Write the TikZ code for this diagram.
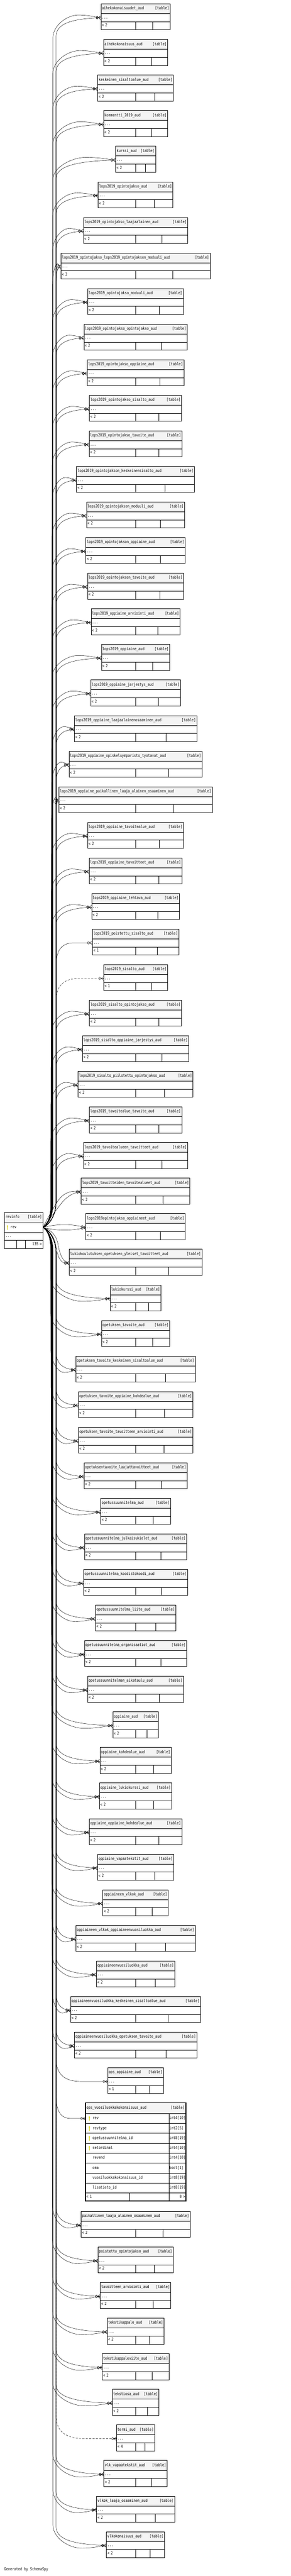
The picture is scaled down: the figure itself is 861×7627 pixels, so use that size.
\documentclass[tikz,border=0pt]{standalone}
\usepackage{fontspec}
\newfontfamily\erfont{DejaVu Sans Mono}[FakeStretch=0.82]
\usetikzlibrary{arrows.meta}
\definecolor{hdrgray}{RGB}{244,244,244}
\definecolor{keyyellow}{RGB}{214,206,0}
\tikzset{
% table cells: grey header and white rows
hdr/.style={draw,fill=hdrgray,line width=0.8pt,inner xsep=3pt,inner ysep=0pt,text height=8.5pt,text depth=2.5pt,align=left},
cell/.style={hdr,fill=white},
% zero-or-many foreign key connectors
fk/.style={line width=0.7pt,-{Circle[open,length=6pt,width=8pt]Straight Barb[reversed,length=7pt,width=10pt]}},
fkdash/.style={fk,dash pattern=on 6pt off 4pt},
prong/.style={line width=0.7pt}
}
% primary key icon
\newcommand{\pkicon}[2]{%
\fill[keyyellow] ({#1},{#2+4}) circle (2.2pt);
\draw[keyyellow,line width=1.1pt] ({#1},{#2+4}) -- ({#1},{#2-7});}

\begin{document}
\begin{tikzpicture}[x=1pt,y=1pt,font=\erfont\fontsize{12}{14}\selectfont]
\useasboundingbox (0,0) rectangle (861,-7627);
% revinfo
\node[hdr,minimum width=113.5pt,text width=107.5pt,minimum height=30.4pt] (rvh) at (69.85,-3604.2) {revinfo\hfill[table]};
\node[cell,minimum width=113.5pt,text width=107.5pt,minimum height=29.3pt] (rev) at (69.85,-3634.05) {\hspace*{15pt}rev};
\node[cell,minimum width=113.5pt,text width=107.5pt,minimum height=23.7pt] (rvd) at (69.85,-3660.55) {...};
\node[cell,minimum width=36.3pt,minimum height=24.1pt] (rvfa) at (31.25,-3684.45) {};
\node[cell,minimum width=26.1pt,minimum height=24.1pt] (rvfb) at (62.45,-3684.45) {};
\node[cell,minimum width=51.1pt,text width=45.1pt,minimum height=24.1pt] (rvfc) at (101.05,-3684.45) {\hfill 135 >};
\pkicon{22}{-3634}
% audit tables: index/name/width/kind/count
\foreach \i/\nm/\w/\k/\cnt in {
1/aihekokonaisuudet\_aud/205.0/2/2,
2/aihekokonaisuus\_aud/189.5/2/2,
3/keskeinen\_sisaltoalue\_aud/224.2/2/2,
4/kommentti\_2019\_aud/189.5/2/2,
5/kurssi\_aud/118.0/2/2,
6/lops2019\_opintojakso\_aud/221.3/2/2,
7/lops2019\_opintojakso\_laajaalainen\_aud/309.1/2/2,
8/lops2019\_opintojakso\_lops2019\_opintojakson\_moduuli\_aud/441.4/2/2,
9/lops2019\_opintojakso\_moduuli\_aud/282.6/2/2,
10/lops2019\_opintojakso\_opintojakso\_aud/306.2/2/2,
11/lops2019\_opintojakso\_oppiaine\_aud/286.2/2/2,
12/lops2019\_opintojakso\_sisalto\_aud/272.8/2/2,
13/lops2019\_opintojakso\_tavoite\_aud/274.8/2/2,
14/lops2019\_opintojakson\_keskeinensisalto\_aud/349.5/2/2,
15/lops2019\_opintojakson\_moduuli\_aud/290.7/2/2,
16/lops2019\_opintojakson\_oppiaine\_aud/294.4/2/2,
17/lops2019\_opintojakson\_tavoite\_aud/284.6/2/2,
18/lops2019\_oppiaine\_arviointi\_aud/263.4/2/2,
19/lops2019\_oppiaine\_aud/202.1/2/2,
20/lops2019\_oppiaine\_jarjestys\_aud/266.2/2/2,
21/lops2019\_oppiaine\_laajaalainenosaaminen\_aud/362.2/2/2,
22/lops2019\_oppiaine\_opiskeluymparisto\_tyotavat\_aud/394.0/2/2,
23/lops2019\_oppiaine\_paikallinen\_laaja\_alainen\_osaaminen\_aud/453.7/2/2,
24/lops2019\_oppiaine\_tavoitealue\_aud/283.8/2/2,
25/lops2019\_oppiaine\_tavoitteet\_aud/274.4/2/2,
26/lops2019\_oppiaine\_tehtava\_aud/260.1/2/2,
27/lops2019\_poistettu\_sisalto\_aud/255.6/1/1,
28/lops2019\_sisalto\_aud/189.1/0/1,
29/lops2019\_sisalto\_opintojakso\_aud/272.8/2/2,
30/lops2019\_sisalto\_oppiaine\_jarjestys\_aud/314.8/2/2,
31/lops2019\_sisalto\_piilotettu\_opintojakso\_aud/340.5/2/2,
32/lops2019\_tavoitealue\_tavoite\_aud/273.6/2/2,
33/lops2019\_tavoitealueen\_tavoitteet\_aud/309.1/2/2,
34/lops2019\_tavoitteiden\_tavoitealueet\_aud/321.8/9/2,
35/lops2019opintojakso\_oppiaineet\_aud/294.4/9/2,
36/lukiokoulutuksen\_opetuksen\_yleiset\_tavoitteet\_aud/392.4/9/2,
37/lukiokurssi\_aud/150.3/2/2,
38/opetuksen\_tavoite\_aud/201.3/2/2,
39/opetuksen\_tavoite\_keskeinen\_sisaltoalue\_aud/353.6/2/2,
40/opetuksen\_tavoite\_oppiaine\_kohdealue\_aud/339.7/2/2,
41/opetuksen\_tavoite\_tavoitteen\_arviointi\_aud/338.9/2/2,
42/opetuksentavoite\_laajattavoitteet\_aud/305.0/2/2,
43/opetussuunnitelma\_aud/206.6/2/2,
44/opetussuunnitelma\_julkaisukielet\_aud/302.6/2/2,
45/opetussuunnitelma\_koodistokoodi\_aud/307.9/2/2,
46/opetussuunnitelma\_liite\_aud/238.1/2/2,
47/opetussuunnitelma\_organisaatiot\_aud/302.6/2/2,
48/opetussuunnitelman\_aikataulu\_aud/283.8/2/2,
49/oppiaine\_aud/135.2/2/2,
50/oppiaine\_kohdealue\_aud/211.5/2/2,
51/oppiaine\_lukiokurssi\_aud/214.0/2/2,
52/oppiaine\_oppiaine\_kohdealue\_aud/274.4/2/2,
53/oppiaine\_vapaatekstit\_aud/225.4/2/2,
54/oppiaineen\_vlkok\_aud/193.5/2/2,
55/oppiaineen\_vlkok\_oppiaineenvuosiluokka\_aud/353.6/2/2,
56/oppiaineenvuosiluokka\_aud/231.9/2/2,
57/oppiaineenvuosiluokka\_keskeinen\_sisaltoalue\_aud/385.1/2/2,
58/oppiaineenvuosiluokka\_opetuksen\_tavoite\_aud/362.2/2/2,
59/ops\_oppiaine\_aud/165.0/1/1,
61/paikallinen\_laaja\_alainen\_osaaminen\_aud/322.6/2/2,
62/poistettu\_opintojakso\_aud/222.5/2/2,
63/tavoitteen\_arviointi\_aud/209.1/2/2,
64/tekstikappale\_aud/168.2/2/2,
65/tekstikappaleviite\_aud/197.6/2/2,
66/tekstiosa\_aud/138.4/2/2,
67/termi\_aud/113.1/0/4,
68/vlk\_vapaatekstit\_aud/187.4/2/2,
69/vlkok\_laaja\_osaaminen\_aud/230.7/2/2,
70/vlkokonaisuus\_aud/172.3/2/2}{
\pgfmathsetmacro\tp{\i<61 ? 11.4+(\i-1)*105.35 : 6547.4+(\i-61)*105.35}
\pgfmathsetmacro\tw{\w-6}
\pgfmathsetmacro\wh{\w/2}
\pgfmathsetmacro\twh{\w/2-6}
\pgfmathsetmacro\wq{\w/4}
\node[hdr,minimum width=\w pt,text width=\tw pt,minimum height=29pt] (h\i) at (401.4,-\tp-14.5) {\nm\hfill[table]};
\node[cell,minimum width=\w pt,text width=\tw pt,minimum height=24pt] (t\i) at (401.4,-\tp-41) {...};
\node[cell,minimum width=\wh pt,text width=\twh pt,minimum height=23.7pt] (fa\i) at ({401.4-\w/4},-\tp-64.85) {< \cnt};
\node[cell,minimum width=\wq pt,minimum height=23.7pt] (fb\i) at ({401.4+\w/8},-\tp-64.85) {};
\node[cell,minimum width=\wq pt,minimum height=23.7pt] (fc\i) at ({401.4+3*\w/8},-\tp-64.85) {};
\draw[prong] (t\i.west) -- +(-7,0);
% connectors from revinfo.rev
\pgfmathsetmacro\yc{\tp+41}
\pgfmathsetmacro\sg{\i<35 ? 1 : -1}
\pgfmathsetmacro\xa{150+0.2*abs(\i-35)}
\pgfmathsetmacro\xL{401.4-\w/2}
\pgfmathsetmacro\dA{\xL-\xa}
\pgfmathsetmacro\dB{\xL-166}
\ifcase\k
\draw[fkdash] (rev.east) .. controls +(15,{4*(\sg)}) and (166,{-3634+(\sg)*34}) .. (166,{-3634+(\sg)*74}) -- (166,{-\yc-(\sg)*70}) .. controls (166,{-\yc-(\sg)*15}) and ({166+0.2*\dB},{-\yc}) .. ({166+0.5*\dB},{-\yc}) -- (t\i.west);
\or
\draw[fk] (rev.east) .. controls +(15,{4*(\sg)}) and (166,{-3634+(\sg)*34}) .. (166,{-3634+(\sg)*74}) -- (166,{-\yc-(\sg)*70}) .. controls (166,{-\yc-(\sg)*15}) and ({166+0.2*\dB},{-\yc}) .. ({166+0.5*\dB},{-\yc}) -- (t\i.west);
\or
\draw[fk] (rev.east) .. controls +(13,{8*(\sg)}) and ({\xa},{-3634+(\sg)*29}) .. ({\xa},{-3634+(\sg)*69}) -- ({\xa},{-\yc-(\sg)*60}) .. controls ({\xa},{-\yc-(\sg)*22}) and ({\xa+0.3*\dA},{-\yc+(\sg)*9}) .. ({\xa+0.55*\dA},{-\yc+(\sg)*8}) .. controls ({\xa+0.8*\dA},{-\yc+(\sg)*7}) and ({\xL-0.1*\dA},{-\yc+(\sg)*1}) .. (t\i.west);
\draw[fk] (rev.east) .. controls +(15,{4*(\sg)}) and (166,{-3634+(\sg)*34}) .. (166,{-3634+(\sg)*74}) -- (166,{-\yc-(\sg)*56}) .. controls (166,{-\yc-(\sg)*20}) and ({166+0.3*\dB},{-\yc-(\sg)*4}) .. (t\i.west);
\fi
}
% tables close to revinfo
\draw[fk] (rev.east) .. controls (145,-3600) and (160,-3572) .. (172,-3555) .. controls (188,-3532) and (210,-3524) .. (t34.west);
\draw[fk] (rev.east) .. controls (148,-3608) and (165,-3585) .. (180,-3565) .. controls (195,-3545) and (215,-3532) .. (t34.west);
\draw[fk] (rev.east) .. controls (175,-3622) and (215,-3625) .. (t35.west);
\draw[fk] (rev.east) .. controls (175,-3646) and (215,-3643) .. (t35.west);
\draw[fk] (rev.east) .. controls (150,-3645) and (162,-3665) .. (166,-3690) .. controls (170,-3720) and (180,-3742) .. (t36.west);
\draw[fk] (rev.east) .. controls (152,-3640) and (168,-3660) .. (172,-3685) .. controls (176,-3712) and (188,-3736) .. (t36.west);
% ops_vuosiluokkakokonaisuus_aud with all columns
\node[hdr,minimum width=297pt,text width=291pt,minimum height=31.4pt] (h60) at (401.5,-6241.7) {ops\_vuosiluokkakokonaisuus\_aud\hfill[table]};
\foreach \j/\cn/\ct in {1/rev/int4[10],2/revtype/int2[5],3/opetussuunnitelma\_id/int8[19],4/setordinal/int4[10],5/revend/int4[10],6/oma/bool[1],7/vuosiluokkakokonaisuus\_id/int8[19],8/lisatieto\_id/int8[19]}{
\node[cell,minimum width=247.2pt,text width=241.2pt,minimum height=29.4pt] (b\j) at (376.6,{-6257.4-29.4*(\j-0.5)}) {\hspace*{18.4pt}\cn};
\node[cell,minimum width=49.8pt,text width=46.8pt,inner xsep=1.5pt,minimum height=29.4pt] (y\j) at (525.1,{-6257.4-29.4*(\j-0.5)}) {\ct};
}
\foreach \j in {1,...,4} {\pkicon{264.6}{-6257.4-29.4*(\j-0.5)}}
\node[cell,minimum width=130.4pt,text width=124.4pt,minimum height=23.4pt] (fa60) at (318.2,-6504.3) {< 1};
\node[cell,minimum width=116.8pt,minimum height=23.4pt] (fb60) at (441.8,-6504.3) {};
\node[cell,minimum width=49.8pt,text width=45.8pt,inner xsep=2pt,minimum height=23.4pt] (fc60) at (525.1,-6504.3) {\hfill 0 >};
\draw[line width=2.2pt] (h60.north west) rectangle (fc60.south east);
\draw[fk] (rev.east) .. controls +(15,-4) and (166,-3668) .. (166,-3708) -- (166,-6202) .. controls (166,-6257) and (183.4,-6272.1) .. (209.5,-6272.1) -- (b1.west);
\draw[prong] (b1.west) -- +(-7,0);
\node[anchor=west,inner sep=0pt] (gen) at (12,-7608) {Generated by SchemaSpy};
\end{tikzpicture}
\end{document}
